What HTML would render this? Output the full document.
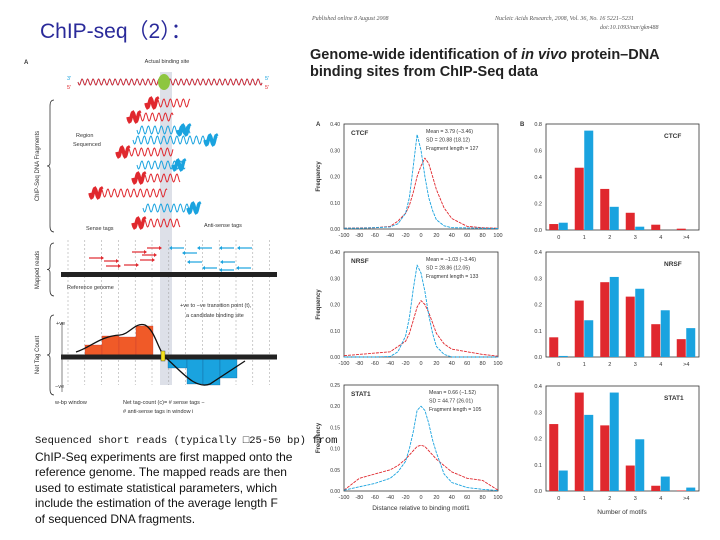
<!DOCTYPE html>
<html><head><meta charset="utf-8"><style>
body{margin:0;background:#fff;}
#root{position:relative;width:720px;height:540px;overflow:hidden;font-family:"Liberation Sans",sans-serif;}
.t{position:absolute;white-space:nowrap;}
</style></head><body>
<div id="root">
<div class="t" style="left:40px;top:15px;font-size:21px;color:#2a2a9a;font-family:'Liberation Sans','Noto Sans CJK SC',sans-serif;">ChIP-seq（2）：</div>
<div class="t" style="left:312px;top:16px;font-size:6px;font-style:italic;color:#555;font-family:'Liberation Serif',serif;">Published online 8 August 2008</div>
<div class="t" style="left:495px;top:16px;font-size:6px;font-style:italic;color:#555;font-family:'Liberation Serif',serif;">Nucleic Acids Research, 2008, Vol. 36, No. 16 5221–5231</div>
<div class="t" style="left:600px;top:25px;font-size:6px;font-style:italic;color:#555;font-family:'Liberation Serif',serif;">doi:10.1093/nar/gkn488</div>
<div class="t" style="left:310px;top:47px;font-size:14.5px;font-weight:bold;color:#222;line-height:17px;">Genome-wide identification of <i>in vivo</i> protein–DNA<br>binding sites from ChIP-Seq data</div>
<div class="t" style="left:35px;top:432px;font-size:12px;color:#111;line-height:15.5px;"><span style="font-family:'Liberation Mono',monospace;font-size:10.5px;">Sequenced short reads (typically □25-50 bp) from</span><br>ChIP-Seq experiments are first mapped onto the<br>reference genome. The mapped reads are then<br>used to estimate statistical parameters, which<br>include the estimation of the average length F<br>of sequenced DNA fragments.</div>
<svg id="diag" width="720" height="540" style="position:absolute;left:0;top:0;font-family:'Liberation Sans',sans-serif;"></svg>
<svg id="charts" width="720" height="540" style="position:absolute;left:0;top:0;font-family:'Liberation Sans',sans-serif;"></svg>
</div>
<script>
// ===== Chart data =====
const distX = [-100,-80,-60,-40,-30,-20,-15,-10,-5,0,5,10,15,20,30,40,60,80,100];
const ctcfBlue = [0.003,0.003,0.005,0.008,0.02,0.06,0.12,0.24,0.36,0.30,0.2,0.12,0.07,0.035,0.012,0.005,0.004,0.003,0.002];
const ctcfRed = [0.003,0.004,0.005,0.01,0.03,0.06,0.09,0.14,0.2,0.24,0.27,0.25,0.2,0.15,0.08,0.04,0.01,0.005,0.003];
const nrsfBlue = [0,0,0,0.002,0.02,0.08,0.15,0.26,0.35,0.32,0.25,0.16,0.09,0.04,0.01,0,0,0,0];
const nrsfRed = [0.005,0.01,0.015,0.02,0.04,0.06,0.09,0.14,0.19,0.215,0.2,0.17,0.13,0.09,0.05,0.03,0.02,0.01,0.003];
const stat1Blue = [0.002,0.01,0.018,0.03,0.045,0.07,0.1,0.14,0.19,0.2,0.19,0.16,0.12,0.09,0.04,0.02,0.008,0.004,0.001];
const stat1Red = [0.002,0.03,0.04,0.05,0.06,0.075,0.085,0.095,0.105,0.108,0.105,0.095,0.085,0.075,0.06,0.045,0.03,0.025,0.002];
const distTicks = [-100,-80,-60,-40,-20,0,20,40,60,80,100];
const motifCats = ["0","1","2","3","4",">4"];
const ctcfBarRed = [0.045,0.47,0.31,0.13,0.04,0.01];
const ctcfBarBlue = [0.055,0.75,0.175,0.025,0,0];
const nrsfBarRed = [0.075,0.215,0.285,0.23,0.125,0.068];
const nrsfBarBlue = [0.004,0.14,0.305,0.26,0.178,0.11];
const stat1BarRed = [0.255,0.375,0.25,0.097,0.02,0.002];
const stat1BarBlue = [0.078,0.29,0.375,0.197,0.055,0.013];

const NS='http://www.w3.org/2000/svg';
const RED='#e0282e', BLUE='#1aa3df';
function mk(parent,tag,attrs,txt){const e=document.createElementNS(NS,tag);for(const k in attrs)e.setAttribute(k,attrs[k]);if(txt!==undefined)e.textContent=txt;parent.appendChild(e);return e;}

const C=document.getElementById('charts');
function linePanel(name,top,bot,ymax,yticks,ylabels,blue,red,stats){
  const x0=344,x1=498;
  const sx=v=>x0+(v+100)/200*(x1-x0);
  const sy=v=>bot-v/ymax*(bot-top);
  const g=mk(C,'g',{});
  
  
  mk(g,'rect',{x:x0,y:top,width:x1-x0,height:bot-top,fill:'none',stroke:'#333','stroke-width':0.8});
  yticks.forEach((v,i)=>{const t=mk(g,'text',{x:x0-4,y:sy(v)+2,'font-size':5,'text-anchor':'end',fill:'#333'},ylabels[i]);
    });
  distTicks.forEach(v=>{const t=mk(g,'text',{x:sx(v),y:bot+8,'font-size':5.5,'text-anchor':'middle',fill:'#333'},String(v));
    });
  const yl=mk(g,'text',{x:0,y:0,'font-size':6,'font-weight':'bold','text-anchor':'middle',fill:'#333',transform:`translate(${x0-24},${(top+bot)/2}) rotate(-90)`},'Frequency');
  
  const nm=mk(g,'text',{x:x0+7,y:top+11,'font-size':6.5,'font-weight':'bold',fill:'#333'},name.toUpperCase());
  
  stats.forEach((s,i)=>{mk(g,'text',{x:x0+82+(name==='stat1'?3:0),y:top+9+i*8.5,'font-size':5.2,fill:'#333'},s);});
  [[red,RED,'red-series-line'],[blue,BLUE,'blue-series-line']].forEach(([arr,col,n])=>{
    const d=arr.map((v,i)=>(i?'L':'M')+sx(distX[i]).toFixed(1)+','+sy(v).toFixed(1)).join('');
    const p=mk(g,'path',{d:d,fill:'none',stroke:col,'stroke-width':0.9,'stroke-dasharray':'3,1','stroke-linejoin':'round'});
    
  });
  return {g,bot,x0,x1};
}
linePanel('ctcf',124,229,0.4,[0,0.1,0.2,0.3,0.4],['0.00','0.10','0.20','0.30','0.40'],ctcfBlue,ctcfRed,['Mean = 3.79 (−3.46)','SD = 20.88 (18.12)','Fragment length = 127']);
linePanel('nrsf',252,357,0.4,[0,0.1,0.2,0.3,0.4],['0.00','0.10','0.20','0.30','0.40'],nrsfBlue,nrsfRed,['Mean = −1.03 (−3.46)','SD = 28.86 (12.05)','Fragment length = 133']);
const p3=linePanel('stat1',385,491,0.25,[0,0.05,0.1,0.15,0.2,0.25],['0.00','0.05','0.10','0.15','0.20','0.25'],stat1Blue,stat1Red,['Mean = 0.66 (−1.52)','SD = 44.77 (26.01)','Fragment length = 105']);
const xt=mk(C,'text',{x:421,y:510,'font-size':6.5,'text-anchor':'middle',fill:'#333'},'Distance relative to binding motif1');

mk(C,'text',{x:316,y:126,'font-size':6,'font-weight':'bold',fill:'#333'},'A');
mk(C,'text',{x:520,y:126,'font-size':6,'font-weight':'bold',fill:'#333'},'B');

function barPanel(name,top,bot,ymax,yticks,red,blue){
  const x0=546,x1=699;
  const sy=v=>bot-v/ymax*(bot-top);
  const band=(x1-x0)/motifCats.length;
  const g=mk(C,'g',{});
  
  
  mk(g,'rect',{x:x0,y:top,width:x1-x0,height:bot-top,fill:'none',stroke:'#333','stroke-width':0.8});
  yticks.forEach(v=>{const t=mk(g,'text',{x:x0-4,y:sy(v)+2,'font-size':5.5,'text-anchor':'end',fill:'#333'},v.toFixed(1));
    });
  motifCats.forEach((c,i)=>{
    const cx=x0+band*(i+0.5);
    const t=mk(g,'text',{x:cx,y:bot+9,'font-size':5.5,'text-anchor':'middle',fill:'#333'},c);
    
    const br=mk(g,'rect',{x:cx-9.5,y:sy(red[i]),width:9,height:bot-sy(red[i]),fill:RED});
    
    const bb=mk(g,'rect',{x:cx,y:sy(blue[i]),width:9,height:bot-sy(blue[i]),fill:BLUE});
    
  });
  const nm=mk(g,'text',{x:x1-35,y:top+14,'font-size':6.5,'font-weight':'bold',fill:'#333'},name.toUpperCase());
  
}
barPanel('ctcf',124,230,0.8,[0,0.2,0.4,0.6,0.8],ctcfBarRed,ctcfBarBlue);
barPanel('nrsf',252,357,0.4,[0,0.1,0.2,0.3,0.4],nrsfBarRed,nrsfBarBlue);
barPanel('stat1',386,491,0.4,[0,0.1,0.2,0.3,0.4],stat1BarRed,stat1BarBlue);
const bx=mk(C,'text',{x:622,y:514,'font-size':6.5,'text-anchor':'middle',fill:'#333'},'Number of motifs');


// ===== Left diagram (decorative) =====
const D=document.getElementById('diag');
mk(D,'text',{x:24,y:64,'font-size':6,'font-weight':'bold',fill:'#333'},'A');
mk(D,'rect',{x:160,y:72,width:12,height:313,fill:'#dde0e8'});
mk(D,'text',{x:167,y:63,'font-size':5.5,'text-anchor':'middle',fill:'#333'},'Actual binding site');
function wave(x0,x1,y,col,amp,per,w){
  let d='';for(let x=x0;x<=x1;x+=0.5){const yy=y+amp*Math.sin((x-x0)/per*2*Math.PI);d+=(d?'L':'M')+x.toFixed(1)+','+yy.toFixed(1);}
  mk(D,'path',{d,fill:'none',stroke:col,'stroke-width':w||0.9});
}
wave(78,262,82,BLUE,3,5.5);wave(78,262,82,RED,3,5.5);
mk(D,'ellipse',{cx:164,cy:82,rx:6,ry:8,fill:'#8dc63f'});
mk(D,'text',{x:67,y:80,'font-size':5.5,fill:BLUE},'3′');mk(D,'text',{x:67,y:89,'font-size':5.5,fill:RED},'5′');
mk(D,'text',{x:265,y:80,'font-size':5.5,fill:BLUE},'5′');mk(D,'text',{x:265,y:89,'font-size':5.5,fill:RED},'5′');
const frags=[[146,190,103,'r'],[128,173,117,'r'],[137,190,130,'b'],[133,217,140,'b'],[117,173,152,'r'],[137,185,165,'b'],[133,180,178,'r'],[90,167,193,'r'],[143,200,208,'b'],[133,180,223,'r']];
frags.forEach(f=>{const col=f[3]==='r'?RED:BLUE;wave(f[0],f[1],f[2],col,4,6.5,1);
  if(f[3]==='r')wave(f[0],f[0]+12,f[2],col,4.5,6.5,3.5);else wave(f[1]-12,f[1],f[2],col,4.5,6.5,3.5);});
function brace(x,y0,y1){mk(D,'path',{d:`M${x+4},${y0} Q${x},${y0} ${x},${y0+6} L${x},${(y0+y1)/2-3} Q${x},${(y0+y1)/2} ${x-3},${(y0+y1)/2} Q${x},${(y0+y1)/2} ${x},${(y0+y1)/2+3} L${x},${y1-6} Q${x},${y1} ${x+4},${y1}`,fill:'none',stroke:'#333','stroke-width':0.8});}
brace(50,100,232);brace(50,243,296);brace(50,315,395);
mk(D,'text',{x:0,y:0,'font-size':6,fill:'#333','text-anchor':'middle',transform:'translate(39,166) rotate(-90)'},'ChIP-Seq DNA Fragments');
mk(D,'text',{x:0,y:0,'font-size':6,fill:'#333','text-anchor':'middle',transform:'translate(39,270) rotate(-90)'},'Mapped reads');
mk(D,'text',{x:0,y:0,'font-size':6,fill:'#333','text-anchor':'middle',transform:'translate(39,355) rotate(-90)'},'Net Tag Count');
mk(D,'text',{x:76,y:137,'font-size':5.5,fill:'#333'},'Region');mk(D,'text',{x:73,y:146,'font-size':5.5,fill:'#333'},'Sequenced');
mk(D,'text',{x:86,y:230,'font-size':5.5,fill:'#333'},'Sense tags');mk(D,'text',{x:204,y:227,'font-size':5.5,fill:'#333'},'Anti-sense tags');
for(let i=0;i<13;i++){const x=68+i*16.8;mk(D,'line',{x1:x,y1:240,x2:x,y2:385,stroke:'#999','stroke-width':0.5,'stroke-dasharray':'2,2'});}
const sense=[[89,258],[104,261],[132,252],[147,248],[106,266],[124,265],[140,260],[142,255]];
sense.forEach(([x,y])=>{mk(D,'line',{x1:x,y1:y,x2:x+12,y2:y,stroke:RED,'stroke-width':1.2});mk(D,'path',{d:`M${x+12},${y-2}L${x+15},${y}L${x+12},${y+2}z`,fill:RED});});
const anti=[[172,248],[185,253],[200,248],[222,248],[240,248],[190,262],[205,268],[223,262],[239,268],[222,270]];
anti.forEach(([x,y])=>{mk(D,'line',{x1:x,y1:y,x2:x+12,y2:y,stroke:BLUE,'stroke-width':1.2});mk(D,'path',{d:`M${x},${y-2}L${x-3},${y}L${x},${y+2}z`,fill:BLUE});});
mk(D,'rect',{x:61,y:272,width:216,height:5,fill:'#222'});
mk(D,'text',{x:67,y:289,'font-size':5.5,fill:'#333'},'Reference genome');
mk(D,'text',{x:180,y:307,'font-size':5.5,fill:'#333'},'+ve to −ve transition point (t),');
mk(D,'text',{x:186,y:317,'font-size':5.5,fill:'#333'},'a candidate binding site');
[[85,102,345],[102,119,336],[119,136,337],[136,153,326]].forEach(b=>mk(D,'rect',{x:b[0],y:b[2],width:b[1]-b[0],height:357-b[2],fill:'#f05a28',stroke:'#b33','stroke-width':0.3}));
[[168,187,368],[187,203,384],[203,220,385],[220,237,378]].forEach(b=>mk(D,'rect',{x:b[0],y:357,width:b[1]-b[0],height:b[2]-357,fill:BLUE,stroke:'#158','stroke-width':0.3}));
mk(D,'rect',{x:61,y:354.5,width:216,height:5,fill:'#222'});
mk(D,'path',{d:'M76,352 C90,348 100,336 120,335 C130,334 135,322 145,325 C155,330 158,350 165,357 C180,370 195,390 210,384 L245,361',fill:'none',stroke:'#111','stroke-width':1.3});
mk(D,'rect',{x:161,y:351,width:4,height:10,fill:'#f4e11c',stroke:'#333','stroke-width':0.4});
mk(D,'line',{x1:62,y1:322,x2:62,y2:392,stroke:'#333','stroke-width':0.6});
mk(D,'text',{x:56,y:325,'font-size':5.5,fill:'#333'},'+ve');mk(D,'text',{x:55,y:388,'font-size':5.5,fill:'#333'},'−ve');
mk(D,'text',{x:55,y:404,'font-size':5.5,fill:'#333'},'w-bp window');
mk(D,'text',{x:123,y:404,'font-size':5.5,fill:'#333'},'Net tag-count (c)= # sense tags −');
mk(D,'text',{x:123,y:413,'font-size':5.5,fill:'#333'},'# anti-sense tags in window i');
</script>
</body></html>
